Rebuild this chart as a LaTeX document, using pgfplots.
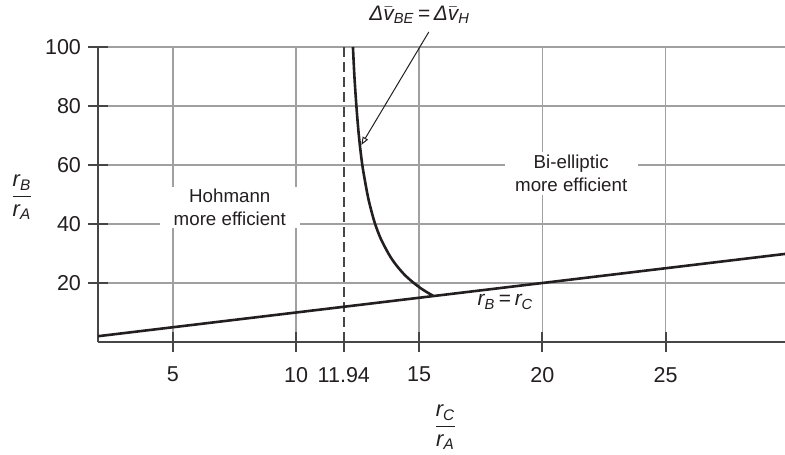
\documentclass[border=0pt]{standalone}
\usepackage{fontspec}
\setmainfont{Liberation Sans}
\usepackage{amsmath}
\usepackage{pgfplots}
\pgfplotsset{compat=1.18}
\usetikzlibrary{arrows.meta}
\definecolor{ink}{RGB}{35,31,32}
\definecolor{gridgray}{RGB}{160,160,160}
\definecolor{axisgray}{RGB}{70,70,70}
\begin{document}
\begin{tikzpicture}
\useasboundingbox (0,0) rectangle (392.5bp,227.5bp);
\begin{axis}[
  at={(49bp,56.5bp)}, anchor=south west,
  scale only axis, width=343.5bp, height=147.5bp,
  xmin=1.96, xmax=29.85, ymin=0, ymax=100,
  axis lines*=left,
  axis line style={axisgray, line width=1bp},
  xtick={5,10,15,20,25}, ytick={20,40,60,80,100},
  extra x ticks={11.94}, extra x tick labels={11.94},
  extra x tick style={grid=none},
  grid=major, major grid style={gridgray, line width=0.75bp},
  tick align=center, major tick length=10bp,
  tick style={axisgray, line width=1bp},
  /pgf/number format/assume math mode=true,
  tick label style={font=\fontsize{10.8}{12}\selectfont, text=ink},
  xticklabel style={yshift=-4bp},
  xlabel={$\dfrac{\textit{r}_{\textit{C}}}{\textit{r}_{\textit{A}}}$},
  ylabel={$\dfrac{\textit{r}_{\textit{B}}}{\textit{r}_{\textit{A}}}$},
  label style={font=\fontsize{11}{12}\selectfont, text=ink},
  xlabel style={at={(axis description cs:0.5,0)}, anchor=center, yshift=-42.8bp, xshift=2bp},
  ylabel style={rotate=-90, at={(axis description cs:0,0.5)}, anchor=center, xshift=-38bp, yshift=-1.5bp},
  clip=false,
]
\addplot[axisgray, line width=0.8bp, dash pattern=on 5bp off 2.5bp] coordinates {(11.94,0) (11.94,100)};
\addplot[ink, line width=1.3bp] coordinates {(1.96,1.96) (29.85,29.85)};
\addplot[ink, line width=1.3bp, smooth, tension=0.5] coordinates {
(15.58,15.58) (15.39,16.5) (15.10,18) (14.78,20) (14.44,22.5) (14.17,25)
(13.94,27.5) (13.75,30) (13.44,35) (13.21,40) (13.04,45) (12.90,50) (12.69,60)
(12.55,70) (12.45,80) (12.37,90) (12.31,100)};
\node[fill=white, inner sep=0pt, minimum width=70bp, minimum height=20.5bp, align=center,
  font=\fontsize{9.4}{11.5}\selectfont, text=ink] at (axis cs:7.31,45.6) {Hohmann\\more efficient};
\node[fill=white, inner sep=0pt, minimum width=66.5bp, minimum height=21.5bp, align=center,
  font=\fontsize{9.4}{11.5}\selectfont, text=ink] at (axis cs:21.17,57.1) {Bi-elliptic\\more efficient};
\node[font=\fontsize{10.5}{12}\selectfont, text=ink] at (axis cs:18.5,13.6)
  {$\textit{r}_{\textit{B}}\,\text{=}\,\textit{r}_{\textit{C}}$};
\node[font=\fontsize{10.5}{12}\selectfont, text=ink] at (axis cs:15.02,110.8)
  {$\textit{Δ}\bar{\textit{v}}_{\textit{BE}}\,\text{=}\,\textit{Δ}\bar{\textit{v}}_{\textit{H}}$};
\draw[ink, line width=0.5bp, -{Triangle[open, length=4bp, width=3bp]}]
  (axis cs:15.39,105.1) -- (axis cs:12.65,66.8);
\end{axis}
\end{tikzpicture}
\end{document}
